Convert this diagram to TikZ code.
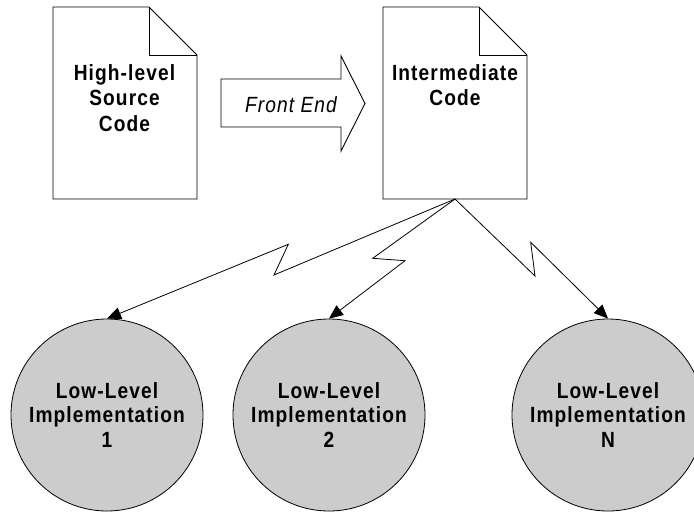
\documentclass[tikz,border=0pt]{standalone}
\usepackage{fontspec}
\setmainfont{Liberation Sans}
\newfontfamily\lblfont[LetterSpace=5,FakeStretch=0.87]{Liberation Sans}
\usetikzlibrary{arrows.meta,calc}
\definecolor{implgray}{RGB}{204,204,204}
\begin{document}
\begin{tikzpicture}[x=1pt,y=-1pt,
  docbox/.style={draw=none,minimum width=144pt,minimum height=192pt,inner sep=0pt,outer sep=0pt},
  outline/.style={draw=black,fill=white,line width=0.9pt,line join=miter},
  doctext/.style={font=\lblfont\bfseries\fontsize{22}{25.5}\selectfont,align=center,inner sep=0pt,anchor=north},
  impl/.style={circle,draw=black,line width=0.8pt,fill=implgray,minimum size=192pt,inner sep=0pt,
    font=\lblfont\bfseries\fontsize{22}{24.8}\selectfont,align=center},
  conn/.style={line width=0.8pt,-{Triangle[length=14pt,width=12pt]},line join=miter}]
\useasboundingbox (0,0) rectangle (694,512);
\clip (0,0) rectangle (694,512);

% source and intermediate documents (page with folded corner)
\node[docbox] (src) at (125,103) {};
\node[docbox] (ir) at (455,103) {};
\foreach \d in {src,ir}{
  \draw[outline] (\d.north west) -- ($(\d.north east)+(-48,0)$) -- ($(\d.north east)+(0,48)$)
    -- (\d.south east) -- (\d.south west) -- cycle;
  \draw[outline,fill=none] ($(\d.north east)+(-48,0)$) -- ++(0,48) -- ++(48,0);
}
\node[doctext] (srctext) at (124.5,64) {High-level\\Source\\Code};
\node[doctext] (irtext) at (455,64) {Intermediate\\Code};

% front end block arrow
\draw[outline] (221,79) -- (341,79) -- (341,56) -- (365,103.5) -- (341,151) -- (341,127) -- (221,127) -- cycle;
\node[font=\lblfont\itshape\fontsize{22}{24}\selectfont,inner sep=0pt] (fe) at (291,104.5) {Front End};

% low-level implementations
\node[impl] (ll1) at (107,415) {Low-Level\\Implementation\\1};
\node[impl] (ll2) at (329,415) {Low-Level\\Implementation\\2};
\node[impl] (llN) at (608,415) {Low-Level\\Implementation\\N};

% lightning-bolt connectors
\draw[conn] (ir.south) -- (274,275) -- (288.3,244.3) -- (ll1.north);
\draw[conn] (ir.south) -- (372.7,258.3) -- (405,260.7) -- (ll2.north);
\draw[conn] (ir.south) -- (535,276) -- (530.7,242.3) -- (llN.north);
\end{tikzpicture}
\end{document}
